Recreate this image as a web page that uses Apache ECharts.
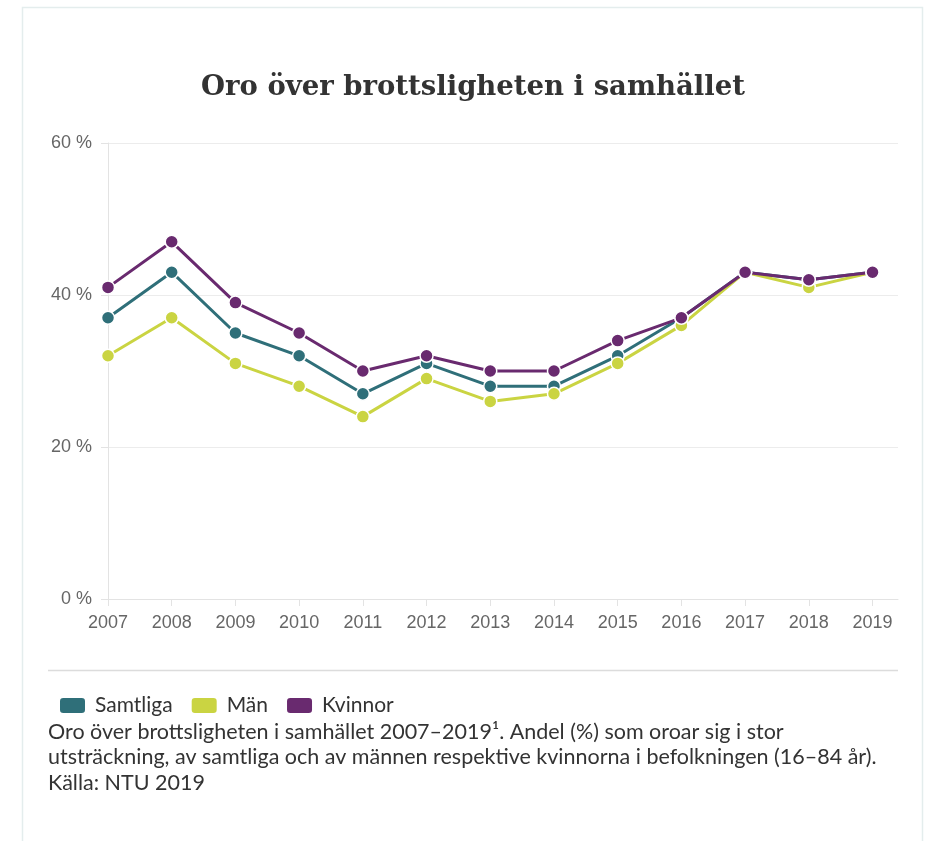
<!DOCTYPE html>
<html>
<head>
<meta charset="utf-8">
<script src="https://cdn.jsdelivr.net/npm/echarts@6/dist/echarts.min.js"></script>
<style>
html,body{margin:0;padding:0;background:#fff;}
#chart{width:929px;height:841px;}
</style>
</head>
<body>
<div id="chart"></div>
<script>
const years = [2007, 2008, 2009, 2010, 2011, 2012, 2013, 2014, 2015, 2016, 2017, 2018, 2019];
const samtliga = [37, 43, 35, 32, 27, 31, 28, 28, 32, 37, 43, 42, 43];
const man = [32, 37, 31, 28, 24, 29, 26, 27, 31, 36, 43, 41, 43];
const kvinnor = [41, 47, 39, 35, 30, 32, 30, 30, 34, 37, 43, 42, 43];
const yTicks = [0, 20, 40, 60];
const titleText = 'Oro över brottsligheten i samhället';
const captionLines = [
  'Oro över brottsligheten i samhället 2007–2019¹. Andel (%) som oroar sig i stor',
  'utsträckning, av samtliga och av männen respektive kvinnorna i befolkningen (16–84 år).',
  'Källa: NTU 2019'
];

const colors = {Samtliga: '#2f6f79', 'Män': '#cad442', Kvinnor: '#692a6f'};

function mk(name, vals) {
  return {
    name: name,
    type: 'line',
    data: years.map((y, i) => [y, vals[i]]),
    symbol: 'circle',
    symbolSize: 13,
    lineStyle: {width: 3, color: colors[name]},
    itemStyle: {color: colors[name], borderColor: '#fff', borderWidth: 1.5},
    emphasis: {disabled: true},
    animation: false
  };
}

const chart = echarts.init(document.getElementById('chart'), null, {renderer: 'canvas'});
chart.setOption({
  backgroundColor: '#fff',
  animation: false,
  title: {
    text: titleText,
    left: 468, textAlign: 'center',
    top: 69,
    textStyle: {fontFamily: 'DejaVu Serif', fontWeight: 'bold', fontSize: 27.5, color: '#333'}
  },
  graphic: [
    {type: 'rect', shape: {x: 22.5, y: 7.5, width: 900, height: 850}, style: {fill: 'none', stroke: '#e4eded', lineWidth: 1.5}, silent: true, z: -1},
    {type: 'line', shape: {x1: 48, y1: 670.5, x2: 898, y2: 670.5}, style: {stroke: '#dcdcdc', lineWidth: 1.5}, silent: true},
    {type: 'text', left: 48, top: 719, style: {text: captionLines.join('\n'), font: '21.5px Lato', fill: '#333', lineHeight: 25.5}, silent: true}
  ],
  legend: {
    left: 53, top: 690,
    icon: 'roundRect',
    itemWidth: 27, itemHeight: 17,
    itemGap: 17,
    textStyle: {fontFamily: 'Lato', fontSize: 21, color: '#333', padding: [0, 0, 0, 4]},
    data: ['Samtliga', 'Män', 'Kvinnor'],
    selectedMode: false
  },
  grid: {left: 108, right: 31, top: 143, bottom: 242},
  xAxis: {
    type: 'value',
    min: 2007, max: 2019.4,
    interval: 1,
    axisLine: {show: true, lineStyle: {color: '#e3e3e3', width: 1}},
    axisTick: {show: true, length: 7, lineStyle: {color: '#e3e3e3'}, customValues: years},
    axisLabel: {customValues: years, color: '#666', fontFamily: 'Liberation Sans', fontSize: 18, margin: 15, formatter: v => String(v)},
    splitLine: {show: false}
  },
  yAxis: {
    type: 'value',
    min: 0, max: 60, interval: 20,
    axisLine: {show: true, lineStyle: {color: '#e3e3e3'}},
    axisTick: {show: true, length: 7, lineStyle: {color: '#e3e3e3'}},
    axisLabel: {color: '#666', fontFamily: 'Liberation Sans', fontSize: 18, margin: 16, formatter: v => v + ' %'},
    splitLine: {show: true, lineStyle: {color: '#ececec'}}
  },
  series: [mk('Samtliga', samtliga), mk('Män', man), mk('Kvinnor', kvinnor)]
});
</script>
</body>
</html>
